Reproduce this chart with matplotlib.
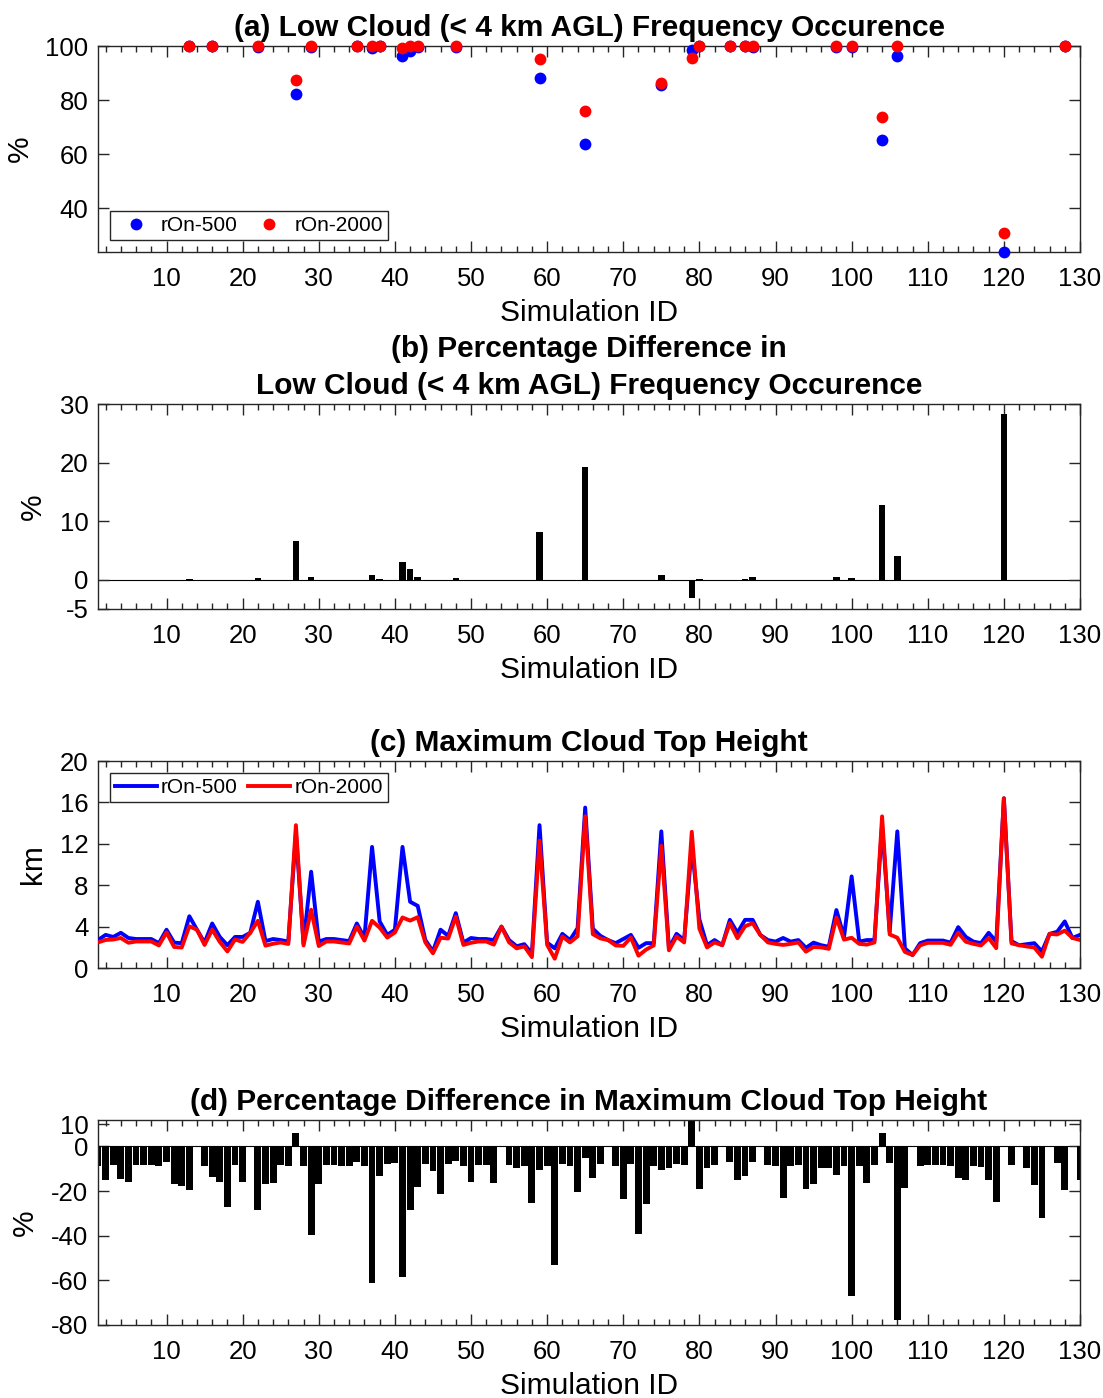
import numpy as np
import matplotlib
matplotlib.use("Agg")
import matplotlib.pyplot as plt
from matplotlib.ticker import MultipleLocator

plt.rcParams['font.family'] = ['Liberation Sans', 'DejaVu Sans']
plt.rcParams['axes.unicode_minus'] = False

# ---------------- data ----------------
sim_ids = np.arange(1, 131)

# simulations with low cloud present
lc_ids = [13, 16, 22, 27, 29, 35, 37, 38, 41, 42, 43, 48, 59, 65, 75, 79, 80,
          84, 86, 87, 98, 100, 104, 106, 120, 128]
lc_500 = [100, 100, 99.7, 82.1, 99.5, 100, 99.2, 99.9, 96.2, 98.0, 99.5, 99.7,
          88.1, 63.6, 85.6, 98.5, 99.9, 100, 99.9, 99.5, 99.5, 99.7, 65.4, 96.2,
          23.9, 100]
lc_2000 = [100, 100, 100, 87.5, 100, 100, 100, 100, 99.1, 99.9, 100, 100,
           95.3, 75.9, 86.3, 95.4, 100, 100, 100, 100, 100, 100, 73.7, 100,
           30.9, 100]
lc_diff = [0.1, 0.0, 0.3, 6.6, 0.5, 0.0, 0.85, 0.1, 3.0, 1.9, 0.5, 0.35,
           8.2, 19.3, 0.85, -3.1, 0.1, 0.0, 0.1, 0.5, 0.5, 0.35, 12.7, 4.0,
           28.3, 0.0]

# maximum cloud top height (km)
cth_500 = [2.7, 3.2, 3.0, 3.4, 2.9, 2.8, 2.8, 2.8, 2.4, 3.7,
           2.45, 2.4, 5.0, 3.7, 2.45, 4.3, 3.0, 2.2, 3.0, 3.0,
           3.4, 6.4, 2.6, 2.8, 2.7, 2.55, 13.05, 2.4, 9.3, 2.55,
           2.8, 2.8, 2.7, 2.6, 4.3, 2.9, 11.7, 4.5, 3.2, 3.7,
           11.7, 6.4, 6.0, 2.7, 1.6, 3.7, 3.1, 5.3, 2.45, 2.9,
           2.8, 2.8, 2.7, 4.0, 2.7, 2.1, 2.3, 1.4, 13.8, 2.45,
           1.9, 3.3, 2.7, 3.85, 15.5, 3.8, 3.1, 2.7, 2.4, 2.8,
           3.2, 1.95, 2.4, 2.4, 13.2, 1.9, 3.3, 2.7, 11.8, 4.7,
           2.2, 2.7, 2.2, 4.65, 3.4, 4.65, 4.65, 3.2, 2.7, 2.55,
           2.9, 2.55, 2.7, 1.95, 2.45, 2.2, 2.05, 5.6, 3.0, 8.85,
           2.55, 2.7, 2.7, 13.85, 3.5, 13.2, 1.9, 1.25, 2.4, 2.65,
           2.65, 2.65, 2.45, 3.95, 3.0, 2.55, 2.4, 3.4, 2.55, 16.4,
           2.6, 2.2, 2.3, 2.4, 1.6, 3.3, 3.5, 4.5, 2.9, 3.2]
cth_2000 = [2.47, 2.71, 2.75, 2.9, 2.44, 2.56, 2.56, 2.56, 2.18, 3.43,
            2.03, 1.98, 4.03, 3.7, 2.23, 3.71, 2.52, 1.6, 2.75, 2.52,
            3.4, 4.56, 2.16, 2.34, 2.47, 2.32, 13.8, 2.18, 5.63, 2.12,
            2.56, 2.56, 2.46, 2.37, 4.0, 2.65, 4.56, 3.9, 2.94, 3.43,
            4.88, 4.58, 4.91, 2.48, 1.42, 2.92, 2.85, 4.96, 2.23, 2.44,
            2.56, 2.56, 2.26, 4.0, 2.48, 1.9, 2.09, 1.05, 12.3, 2.24,
            0.9, 3.04, 2.47, 3.06, 14.66, 3.27, 2.86, 2.7, 2.18, 2.14,
            2.95, 1.19, 1.78, 2.18, 11.8, 1.71, 3.04, 2.47, 13.16, 3.8,
            1.99, 2.47, 2.2, 4.33, 2.88, 4.03, 4.33, 3.2, 2.47, 2.33,
            2.23, 2.33, 2.47, 1.58, 2.03, 1.99, 1.85, 4.88, 2.74, 2.92,
            2.33, 2.26, 2.47, 14.65, 3.24, 2.93, 1.55, 1.25, 2.19, 2.43,
            2.43, 2.43, 2.24, 3.4, 2.54, 2.33, 2.18, 2.89, 1.92, 16.4,
            2.38, 2.2, 2.08, 1.98, 1.09, 3.3, 3.24, 3.61, 2.9, 2.71]
cth_diff = [-8.7, -15.2, -8.3, -14.7, -15.9, -8.4, -8.4, -8.4, -9.0, -7.2,
            -17.0, -17.6, -19.4, 0.0, -9.0, -13.7, -15.9, -27.2, -8.3, -15.9,
            0.0, -28.7, -17.0, -16.5, -8.4, -9.0, 5.8, -9.0, -39.5, -17.0,
            -8.4, -8.4, -9.0, -8.7, -6.9, -8.7, -61.0, -13.4, -8.0, -7.4,
            -58.3, -28.5, -18.2, -8.0, -11.0, -21.2, -8.0, -6.5, -9.0, -15.8,
            -8.4, -8.4, -16.4, 0.0, -8.3, -9.8, -9.0, -25.2, -10.8, -8.7,
            -53.0, -8.0, -8.7, -20.6, -5.4, -14.0, -7.7, 0.0, -9.0, -23.7,
            -7.7, -39.1, -25.7, -9.0, -10.7, -9.8, -8.0, -8.4, 11.5, -19.2,
            -9.5, -8.4, 0.0, -6.9, -15.2, -13.4, -6.9, 0.0, -8.4, -8.7,
            -23.0, -8.7, -8.4, -19.2, -17.0, -9.5, -9.9, -12.8, -8.7, -67.0,
            -8.7, -16.3, -8.4, 5.8, -7.5, -77.8, -18.5, 0.0, -8.7, -8.4,
            -8.4, -8.4, -8.7, -14.0, -15.2, -8.7, -9.2, -14.9, -24.8, 0.0,
            -8.3, 0.0, -9.5, -17.5, -32.0, 0.0, -7.5, -19.7, 0.0, -15.2]

labels = ['rOn-500', 'rOn-2000']

# ---------------- figure ----------------
W, H = 1103, 1398
fig = plt.figure(figsize=(W / 100, H / 100), dpi=100)
AXC = '#262626'
TICK_FS = 18.5
LABEL_FS = 21.5


def make_axes(top, bottom, left=98, right=1080):
    return fig.add_axes([left / W, 1 - bottom / H, (right - left) / W, (bottom - top) / H])


def style(ax, ylabel, ylab_x, height):
    ax.set_xlim(1, 130)
    ax.xaxis.set_major_locator(MultipleLocator(10))
    ax.xaxis.set_minor_locator(MultipleLocator(2))
    ax.tick_params(which='both', direction='in', top=True, right=True,
                   color=AXC, labelcolor='black', width=1.0)
    ax.tick_params(which='major', length=8, labelsize=TICK_FS)
    ax.tick_params(axis='x', which='major', pad=10.5)
    ax.tick_params(axis='y', which='major', pad=7)
    ax.tick_params(which='minor', length=4)
    ax.tick_params(axis='y', which='minor', left=False, right=False)
    for s in ax.spines.values():
        s.set_color(AXC)
        s.set_linewidth(1.0)
    ax.set_xlabel('Simulation ID', fontsize=LABEL_FS)
    ax.xaxis.set_label_coords(0.5, -47 / height)
    ax.set_ylabel(ylabel, fontsize=LABEL_FS)
    ax.yaxis.set_label_coords(ylab_x, 0.5)


def legend(ax, handles, loc, anchor):
    leg = ax.legend(handles=handles, labels=labels, ncol=2, loc=loc,
                    bbox_to_anchor=anchor, borderaxespad=0, fontsize=15,
                    frameon=True, fancybox=False, framealpha=1,
                    edgecolor=AXC, handlelength=2.0, handletextpad=0.2,
                    columnspacing=0.5, borderpad=0.25)
    leg.get_frame().set_linewidth(1.0)
    return leg


# (a) low cloud frequency
ax1 = make_axes(46, 252)
h500 = ax1.plot(lc_ids, lc_500, 'o', color='blue', markersize=8.5,
                markeredgewidth=0, clip_on=False, zorder=3)[0]
h2000 = ax1.plot(lc_ids, lc_2000, 'o', color='red', markersize=8.5,
                 markeredgewidth=0, clip_on=False, zorder=4)[0]
ax1.set_ylim(23.8, 100)
ax1.set_yticks([40, 60, 80, 100])
ax1.set_title('(a) Low Cloud (< 4 km AGL) Frequency Occurence',
              fontsize=LABEL_FS, fontweight='bold', pad=7)
style(ax1, '%', -0.0652, 206)
legend(ax1, [h500, h2000], 'lower left', (0.0122, 0.058))

# (b) percentage difference in low cloud frequency
ax2 = make_axes(404, 609)
ax2.bar(lc_ids, lc_diff, width=0.85, color='black', zorder=2)
ax2.axhline(0, color='black', linewidth=0.8, zorder=1)
ax2.set_ylim(-5, 30)
ax2.set_yticks([-5, 0, 10, 20, 30])
ax2.set_title('(b) Percentage Difference in\nLow Cloud (< 4 km AGL) Frequency Occurence',
              fontsize=LABEL_FS, fontweight='bold', pad=7, linespacing=1.4)
style(ax2, '%', -0.0519, 205)

# (c) maximum cloud top height
ax3 = make_axes(761, 968)
l500 = ax3.plot(sim_ids, cth_500, color='blue', linewidth=2.8, zorder=3)[0]
l2000 = ax3.plot(sim_ids, cth_2000, color='red', linewidth=2.8, zorder=4)[0]
ax3.set_ylim(0, 20)
ax3.set_yticks([0, 4, 8, 12, 16, 20])
ax3.set_title('(c) Maximum Cloud Top Height',
              fontsize=LABEL_FS, fontweight='bold', pad=7)
style(ax3, 'km', -0.0519, 207)
legend(ax3, [l500, l2000], 'upper left', (0.0122, 0.942))

# (d) percentage difference in maximum cloud top height
ax4 = make_axes(1120, 1325)
ax4.bar(sim_ids, cth_diff, width=0.9, color='black', zorder=2)
ax4.axhline(0, color='black', linewidth=0.8, zorder=1)
ax4.set_ylim(-80, 11.8)
ax4.set_yticks([-80, -60, -40, -20, 0, 10])
ax4.set_title('(d) Percentage Difference in Maximum Cloud Top Height',
              fontsize=LABEL_FS, fontweight='bold', pad=7)
style(ax4, '%', -0.0601, 205)

fig.savefig('out.png', dpi=100)
